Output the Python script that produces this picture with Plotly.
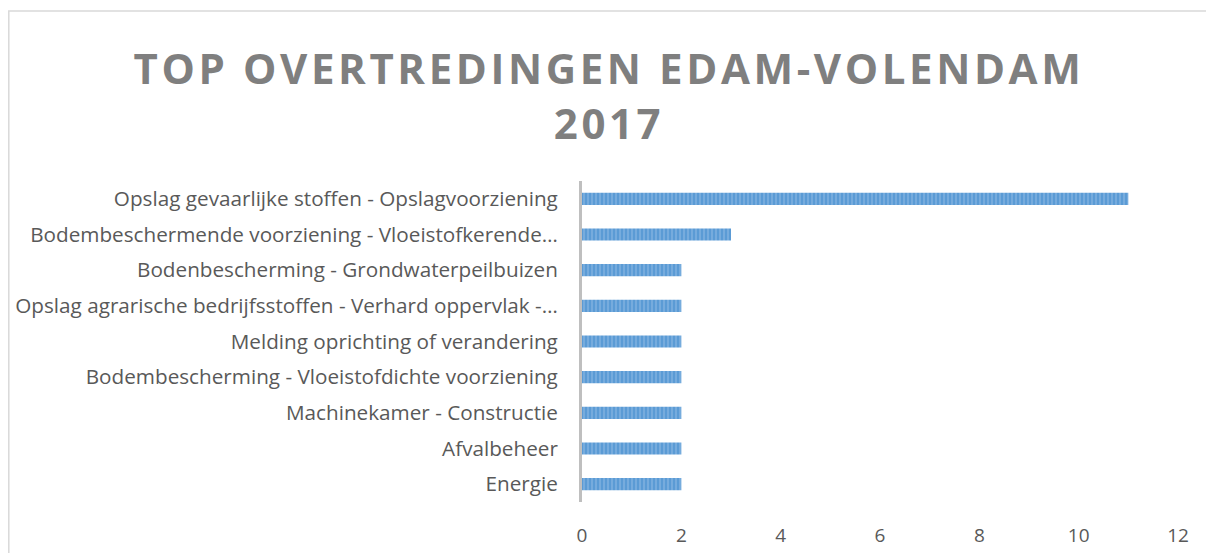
import plotly.graph_objects as go

categories = [
    "Opslag gevaarlijke stoffen - Opslagvoorziening",
    "Bodembeschermende voorziening - Vloeistofkerende…",
    "Bodenbescherming - Grondwaterpeilbuizen",
    "Opslag agrarische bedrijfsstoffen - Verhard oppervlak -…",
    "Melding oprichting of verandering",
    "Bodembescherming - Vloeistofdichte voorziening",
    "Machinekamer - Constructie",
    "Afvalbeheer",
    "Energie",
]
values = [11, 3, 2, 2, 2, 2, 2, 2, 2]
x_ticks = [0, 2, 4, 6, 8, 10, 12]

# page has an 8px body margin, so the figure is 8px smaller than the window
W, H = 1206, 545
L, R, T, B = 574, 36, 173, 51
pw, ph = W - L - R, H - T - B

fig = go.Figure(go.Bar(
    x=values, y=categories, orientation="h",
    marker=dict(
        color="#5B9BD5",
        line=dict(width=0),
        pattern=dict(shape="|", fgcolor="#A9CBEB", bgcolor="#5B9BD5", size=4, solidity=0.35, fillmode="overlay"),
    ),
    width=0.34,
))

fig.update_layout(
    width=W, height=H,
    margin=dict(l=L, r=R, t=T, b=B),
    paper_bgcolor="white", plot_bgcolor="white",
    title=dict(
        text='<span style="letter-spacing:3.6px">TOP OVERTREDINGEN EDAM-VOLENDAM<br>2017</span>',
        x=(601 - L) / pw, xref="paper", xanchor="center",
        y=1 - 76 / H, yanchor="middle", yref="container",
        font=dict(family="Open Sans", size=42, color="#7F7F7F", weight="bold"),
    ),
    showlegend=False,
    font=dict(family="Open Sans", color="#595959"),
)
fig.update_xaxes(
    range=[0, 12], tickvals=x_ticks, showgrid=False, zeroline=False, showline=False,
    ticks="outside", ticklen=16, tickcolor="rgba(0,0,0,0)", automargin=False,
    tickfont=dict(size=19, color="#595959"),
)
fig.update_yaxes(
    autorange="reversed", showgrid=False, showline=True, linecolor="#BFBFBF", linewidth=3,
    ticks="outside", ticklen=17, tickcolor="rgba(0,0,0,0)", automargin=False,
    tickfont=dict(size=20.7, color="#595959"),
)

# chart border
fig.add_shape(
    type="rect", xref="paper", yref="paper",
    x0=(0.8 - L) / pw, x1=(1220 - L) / pw,
    y0=(H - B - 560) / ph, y1=(H - B - 3) / ph,
    line=dict(color="#D9D9D9", width=1.5), fillcolor="rgba(0,0,0,0)", layer="below",
)

fig.write_html("out.html")
